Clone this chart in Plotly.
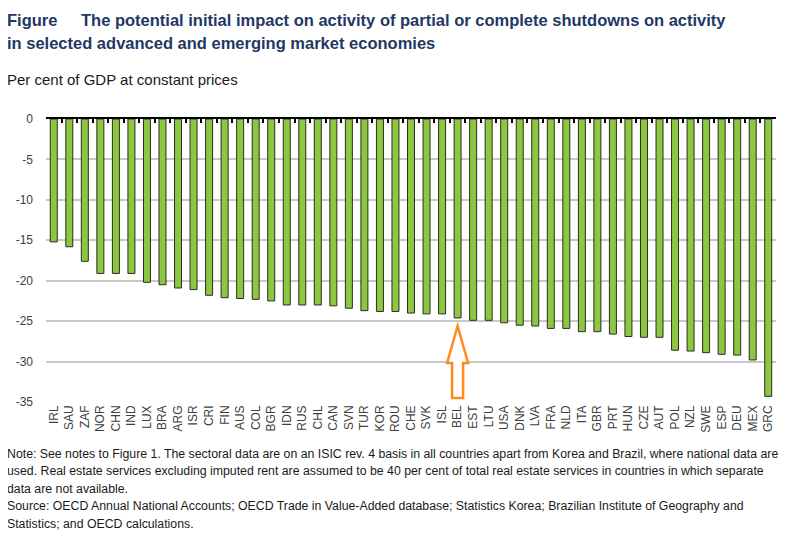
import plotly.graph_objects as go

# Potential initial impact of shutdowns, per cent of GDP at constant prices
countries = [
    "IRL", "SAU", "ZAF", "NOR", "CHN", "IND", "LUX", "BRA", "ARG", "ISR", "CRI", "FIN",
    "AUS", "COL", "BGR", "IDN", "RUS", "CHL", "CAN", "SVN", "TUR", "KOR", "ROU", "CHE",
    "SVK", "ISL", "BEL", "EST", "LTU", "USA", "DNK", "LVA", "FRA", "NLD", "ITA", "GBR",
    "PRT", "HUN", "CZE", "AUT", "POL", "NZL", "SWE", "ESP", "DEU", "MEX", "GRC",
]
impact = [
    -15.2, -15.8, -17.6, -19.1, -19.1, -19.1, -20.2, -20.5, -20.9, -21.1, -21.8, -22.1,
    -22.2, -22.3, -22.5, -23.0, -23.0, -23.0, -23.1, -23.4, -23.7, -23.8, -23.8, -24.0,
    -24.1, -24.1, -24.6, -24.9, -24.9, -25.2, -25.5, -25.6, -25.9, -25.9, -26.3, -26.3,
    -26.6, -26.9, -27.0, -27.0, -28.6, -28.7, -28.9, -29.1, -29.2, -29.8, -34.3,
]
y_ticks = [0, -5, -10, -15, -20, -25, -30, -35]
highlight = "BEL"

# the page body keeps its default 8px margin, so the figure is 16px smaller than the window
PAD = 8
W, H = 791 - 2 * PAD, 541 - 2 * PAD
M = dict(l=46 - PAD, r=W - (776 - PAD), t=119 - PAD, b=H - (402 - PAD))
FONT = "Liberation Sans, Arial, sans-serif"
NAVY = "#1F3864"


def paper_y(px):
    # pixel row in the window -> paper y
    return (H - M["b"] - (px - PAD)) / (H - M["t"] - M["b"])


def paper_x(px):
    return (px - PAD - M["l"]) / (W - M["l"] - M["r"])


fig = go.Figure()
fig.add_trace(go.Bar(
    x=countries, y=impact,
    marker=dict(color="#8DC63F", line=dict(color="#2b2b2b", width=1)),
    hoverinfo="x+y",
))
# invisible trace so the top axis gets the same categories
fig.add_trace(go.Scatter(
    x=countries, y=[0] * len(countries), xaxis="x2",
    mode="markers", marker=dict(opacity=0), hoverinfo="skip", showlegend=False,
))

fig.update_layout(
    width=W, height=H, margin=M,
    paper_bgcolor="white", plot_bgcolor="white",
    showlegend=False, bargap=0.55,
    font=dict(family=FONT, size=12, color="#404040"),
    xaxis=dict(
        type="category", categoryarray=countries, range=[-0.5, len(countries) - 0.5],
        tickangle=-90, tickfont=dict(size=12, color="#404040"),
        showline=False, showgrid=False, ticks="", automargin=False,
    ),
    xaxis2=dict(
        type="category", categoryarray=countries, range=[-0.5, len(countries) - 0.5],
        overlaying="x", side="top", showticklabels=False,
        showline=True, linecolor="black", linewidth=1.5,
        ticks="inside", tickson="boundaries", ticklen=4, tickwidth=1.5, tickcolor="black",
        showgrid=False,
    ),
    yaxis=dict(
        range=[-35, 0], tickvals=y_ticks, ticktext=[str(v) for v in y_ticks],
        showgrid=True, gridcolor="#C8C8C8", gridwidth=1.5, zeroline=False,
        showline=False, ticks="", ticklabelstandoff=12, automargin=False,
        tickfont=dict(size=12, color="#404040"),
    ),
)

# hollow orange arrow under the highlighted country, drawn in pixels from the axis bottom
fig.add_shape(
    type="path", xref="x", yref="y",
    xsizemode="pixel", ysizemode="pixel",
    xanchor=countries.index(highlight), yanchor=-35,
    path="M -5.5 4 L 5.5 4 L 5.5 39 L 10.5 39 L 0 76 L -10.5 39 L -5.5 39 Z",
    line=dict(color="#FF8A1E", width=2.5), fillcolor="white", layer="above",
)

bold = dict(size=16.5, color=NAVY, family=FONT, weight="bold")
texts = [
    ("Figure", 8, 20, bold),
    ("The potential initial impact on activity of partial or complete shutdowns on activity",
     82, 20, bold),
    ("in selected advanced and emerging market economies", 8, 43, bold),
    ("Per cent of GDP at constant prices", 8, 80, dict(size=15, color="#1a1a1a", family=FONT)),
]
notes = [
    "Note: See notes to Figure 1. The sectoral data are on an ISIC rev. 4 basis in all countries apart from Korea and Brazil, where national data are",
    "used. Real estate services excluding imputed rent are assumed to be 40 per cent of total real estate services in countries in which separate",
    "data are not available.",
    "Source: OECD Annual National Accounts; OECD Trade in Value-Added database; Statistics Korea; Brazilian Institute of Geography and",
    "Statistics; and OECD calculations.",
]
for i, line in enumerate(notes):
    texts.append((line, 8, 454 + 17.4 * i, dict(size=12.3, color="#1a1a1a", family=FONT)))

for txt, px, py, f in texts:
    fig.add_annotation(
        text=txt, xref="paper", yref="paper", x=paper_x(px), y=paper_y(py),
        xanchor="left", yanchor="middle", showarrow=False, font=f, align="left",
        xshift=-3,
    )

fig.write_html("out.html")
